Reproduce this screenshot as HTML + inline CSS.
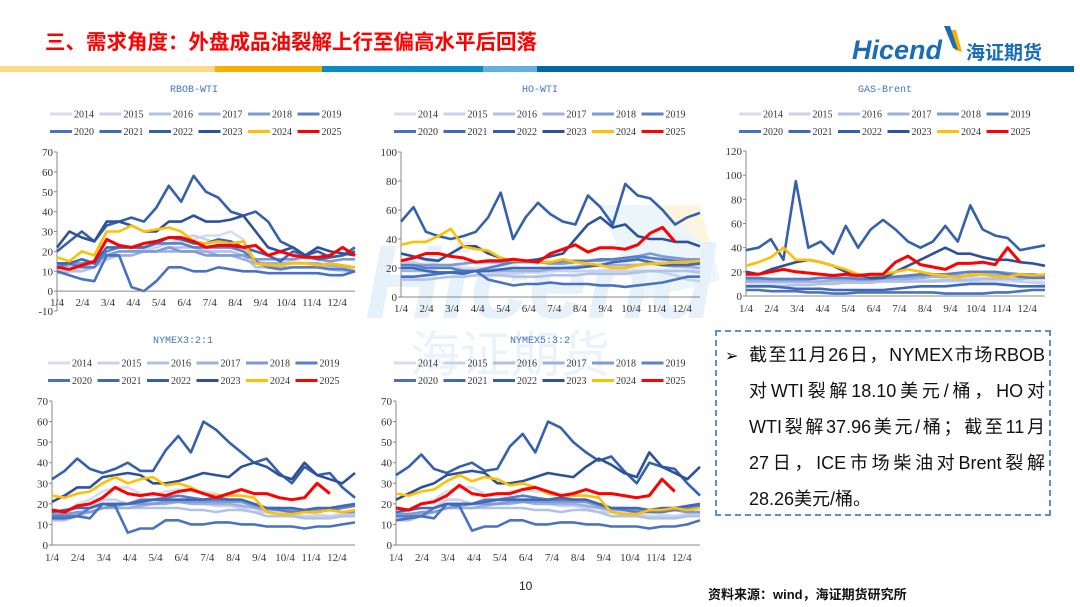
<!DOCTYPE html>
<html><head><meta charset="utf-8">
<style>
html,body{margin:0;padding:0;background:#fff;}
body{width:1080px;height:607px;position:relative;overflow:hidden;font-family:"Liberation Sans","Noto Sans CJK SC",sans-serif;}
#page{position:absolute;left:0;top:0;}
.box{position:absolute;left:715px;top:330px;width:336px;height:186px;border:2px dashed #5b8fd0;box-sizing:border-box;}
.ln{position:absolute;left:32px;width:296px;font-size:18px;color:#111;line-height:20px;text-align:justify;text-align-last:justify;white-space:nowrap;}
</style></head>
<body>
<svg id="page" width="1080" height="607" xmlns="http://www.w3.org/2000/svg">
  <text x="45" y="49" font-size="20.5" font-weight="bold" fill="#ff0000" font-family="Liberation Sans,Noto Sans CJK SC,sans-serif">三、需求角度：外盘成品油裂解上行至偏高水平后回落</text>
  <g>
    <polygon points="947,30 956,30 962,52 955,50" fill="#f5b000"/>
    <polygon points="944,26 950,26 958,50 953,48" fill="#1a6db5"/>
    <text x="852" y="59" font-size="27" font-weight="bold" font-style="italic" fill="#1a6db5" font-family="Liberation Sans,sans-serif">Hicend</text>
    <text x="966" y="59" font-size="19" font-weight="bold" fill="#1a6db5" font-family="Noto Sans CJK SC,sans-serif">海证期货</text>
  </g>
  <g>
    <rect x="0" y="66" width="215" height="6" fill="#fbd98a"/>
    <rect x="215" y="66" width="107" height="6" fill="#f5b000"/>
    <rect x="322" y="66" width="161" height="6" fill="#0a8bc8"/>
    <rect x="483" y="66" width="54" height="6" fill="#62b0e0"/>
    <rect x="537" y="66" width="537" height="6" fill="#0068a8"/>
  </g>
  <g opacity="0.38">
    <polygon points="600,205 700,205 720,280 640,300" fill="#cfe5f4"/>
    <polygon points="655,205 700,205 712,250" fill="#fde6b0"/>
    <text x="365" y="318" font-size="105" font-weight="bold" font-style="italic" fill="#bfdcf0" font-family="Liberation Sans,sans-serif">Hicend</text>
    <text x="410" y="372" font-size="50" fill="#c9e1f3" font-family="Noto Sans CJK SC,sans-serif">海证期货</text>
  </g>
  <g id="charts"></g>
  <text x="519" y="590" font-size="12" fill="#222" font-family="Liberation Sans,sans-serif">10</text>
  <text x="708" y="599" font-size="13" font-weight="bold" fill="#111" font-family="Liberation Sans,Noto Sans CJK SC,sans-serif">资料来源：wind，海证期货研究所</text>
</svg>

<div class="box">
  <div style="position:absolute;left:8px;top:14px;font-size:16px;">➢</div>
  <div class="ln" style="top:13px;">截至11月26日，NYMEX市场RBOB</div>
  <div class="ln" style="top:49px;">对WTI裂解18.10美元/桶，HO对</div>
  <div class="ln" style="top:85px;">WTI裂解37.96美元/桶；截至11月</div>
  <div class="ln" style="top:121px;">27日，ICE市场柴油对Brent裂解</div>
  <div class="ln" style="top:157px;text-align-last:left;">28.26美元/桶。</div>
</div>

<script>
const years = ['2014','2015','2016','2017','2018','2019','2020','2021','2022','2023','2024','2025'];
const monthLabels = ['1/4','2/4','3/4','4/4','5/4','6/4','7/4','8/4','9/4','10/4','11/4','12/4'];
const seriesColors = ['#d7ddef','#c8d2ec','#b2c2e6','#9cb1de','#7f9bd3','#5b7fc7','#4a72c0','#3f68b7','#3560ac','#2d5299','#ffc000','#ff0000'];

const rbobTicks = [-10,0,10,20,30,40,50,60,70];
const rbobValues = [
 [13,14,14,15,18,20,20,20,22,24,25,26,28,28,30,26,15,14,14,15,14,14,12,12,12],
 [10,10,12,14,18,20,20,21,22,24,26,28,26,24,22,22,14,12,12,12,12,12,11,10,10],
 [9,10,10,12,16,18,18,20,20,22,22,22,20,20,20,18,12,12,12,12,12,12,12,11,10],
 [12,13,13,14,18,18,18,20,20,20,20,20,20,18,18,16,14,14,14,14,14,14,13,12,12],
 [13,14,14,15,18,20,20,20,20,22,20,20,18,18,18,18,16,16,16,16,17,16,15,16,16],
 [12,14,12,12,20,22,22,22,24,24,24,22,22,22,22,20,15,12,11,12,12,12,11,11,10],
 [10,8,6,5,18,18,2,0,5,12,12,10,10,12,11,10,10,9,9,9,9,9,8,8,10],
 [14,14,16,14,22,22,22,22,24,27,26,24,24,26,25,22,20,18,15,20,18,16,17,18,22],
 [20,25,30,25,33,35,37,35,42,53,45,58,50,47,40,38,40,35,25,22,18,20,17,18,20],
 [22,30,27,25,35,35,33,30,30,35,35,38,35,35,36,38,30,22,20,22,18,22,20,19,18],
 [17,15,20,18,30,30,33,30,31,32,30,25,24,25,24,25,14,13,13,14,14,13,14,13,12],
 [12,11,13,15,26,23,22,24,25,27,27,25,22,23,23,22,23,18,20,18,17,17,18,22,18]
];
const hoTicks = [0,20,40,60,80,100];
const hoValues = [
 [30,28,25,22,22,20,20,20,18,18,18,18,18,18,18,18,18,19,20,22,24,24,22,20,18],
 [24,24,22,20,20,18,18,17,16,16,17,17,18,18,18,18,18,18,18,18,18,17,15,12,11],
 [12,12,12,13,14,14,15,15,15,14,14,14,15,15,15,16,16,16,16,17,18,18,18,18,17],
 [18,18,18,17,17,17,18,18,18,18,18,18,19,20,21,22,22,22,22,22,23,22,21,21,20],
 [22,22,22,22,22,23,24,24,24,24,24,24,23,23,24,25,25,26,27,28,30,28,27,26,26],
 [22,22,20,20,20,18,18,20,22,24,25,24,24,25,25,25,26,26,27,28,27,26,25,24,24],
 [14,14,15,16,17,18,18,12,10,8,9,9,10,9,9,9,8,8,7,8,9,10,12,14,14],
 [20,20,18,17,17,16,18,18,19,20,20,20,20,20,20,21,22,24,25,26,24,22,22,22,23],
 [52,62,45,42,40,42,45,55,72,40,55,65,57,52,50,70,62,50,78,70,68,60,50,55,58],
 [30,28,26,25,30,35,35,30,27,25,25,26,28,30,40,50,55,48,50,42,40,40,38,38,35],
 [36,38,38,42,47,35,33,32,27,25,25,24,24,26,24,23,22,20,20,22,23,23,24,24,25],
 [25,27,30,30,28,27,24,25,25,26,25,24,30,33,36,31,34,34,33,36,44,48,38]
];
const gasTicks = [0,20,40,60,80,100,120];
const gasValues = [
 [10,10,10,10,10,11,11,12,12,12,12,12,12,12,12,12,12,12,12,12,12,12,12,12,12],
 [12,12,12,12,12,12,12,12,12,12,12,12,12,12,13,13,14,14,15,15,14,14,12,11,10],
 [8,8,8,8,9,9,10,10,11,11,11,12,12,12,12,12,13,13,13,14,14,14,14,15,15],
 [12,12,12,12,12,12,12,13,13,13,13,14,14,14,15,16,16,17,17,18,18,17,16,16,16],
 [14,14,14,14,14,14,15,15,15,16,16,16,16,16,17,18,18,19,20,20,20,19,18,18,17],
 [15,15,14,14,14,14,15,15,15,14,14,15,16,17,18,18,18,19,20,20,20,18,16,15,15],
 [5,5,4,4,4,3,3,2,2,3,3,3,3,3,3,3,2,2,2,2,3,3,4,5,5],
 [8,8,8,7,6,6,6,5,5,5,5,5,6,7,8,8,8,9,10,10,10,9,8,8,8],
 [38,40,47,30,95,40,45,35,58,40,55,63,55,45,40,45,58,45,75,55,50,48,38,40,42],
 [20,18,22,25,28,30,28,25,20,18,15,15,20,25,30,35,40,35,35,32,30,30,28,27,25],
 [25,28,32,40,30,30,28,25,22,18,17,18,20,22,20,18,17,15,18,18,16,16,18,17,18],
 [18,18,20,22,20,19,18,17,18,17,18,18,28,33,26,24,22,27,27,28,26,40,28]
];
const n321Ticks = [0,10,20,30,40,50,60,70];
const n321Values = [
 [14,16,20,22,26,28,28,25,24,26,27,26,26,25,22,20,18,16,16,16,16,15,14,14,14],
 [13,13,15,18,22,22,20,20,21,22,22,22,20,19,19,18,16,16,15,15,14,14,14,15,15],
 [12,12,14,16,18,18,18,18,18,18,18,17,17,16,17,17,16,14,14,14,13,13,13,14,14],
 [14,14,15,16,18,18,18,19,20,20,21,20,20,20,20,19,18,17,17,17,17,17,17,16,16],
 [15,15,16,16,18,19,20,20,20,21,21,21,21,21,21,21,19,18,18,17,17,17,17,16,16],
 [14,14,14,18,20,20,20,22,22,23,24,23,22,22,22,22,20,18,17,16,16,16,17,18,19],
 [13,13,14,13,20,19,6,8,8,12,12,10,10,11,11,10,10,9,9,9,8,9,9,10,11],
 [16,17,18,18,20,20,20,21,22,22,22,22,22,23,22,22,20,18,18,18,17,18,18,19,20],
 [32,36,42,37,35,37,40,36,36,46,53,45,60,56,50,45,40,42,35,30,38,34,35,28,23],
 [21,24,28,28,33,34,35,34,30,30,31,33,35,34,33,38,40,38,34,32,40,34,32,30,35],
 [24,23,25,26,30,33,30,32,33,29,30,28,25,24,24,24,23,16,15,15,16,16,17,16,17],
 [17,16,19,20,23,28,25,24,25,24,26,27,25,23,25,27,25,25,23,22,23,30,25]
];
const n532Ticks = [0,10,20,30,40,50,60,70];
const n532Values = [
 [14,16,20,22,26,28,28,25,24,26,27,26,26,25,22,20,18,16,16,16,16,15,14,14,14],
 [13,13,15,18,22,22,20,20,21,22,22,22,20,19,19,18,16,16,15,15,14,14,14,15,15],
 [12,12,14,16,18,18,18,18,18,18,18,17,17,16,17,17,16,14,14,14,13,13,13,14,14],
 [14,14,15,16,18,18,18,19,20,20,21,20,20,20,20,19,18,17,17,17,17,17,17,16,16],
 [15,15,16,16,18,19,20,20,20,21,21,21,21,21,21,21,19,18,18,17,17,17,17,16,16],
 [14,14,14,18,20,20,20,22,22,23,24,23,22,22,22,22,20,18,17,16,16,16,17,18,19],
 [12,13,14,13,20,19,7,9,9,12,12,10,10,11,11,10,10,9,9,9,8,9,9,10,12],
 [16,17,18,18,20,20,20,21,22,22,22,22,22,23,22,22,20,18,18,18,17,18,18,19,20],
 [34,38,44,37,35,38,40,36,37,48,54,45,60,57,50,45,41,43,36,30,40,38,37,30,24],
 [22,25,28,30,34,35,36,35,30,30,31,33,35,34,33,38,42,39,35,33,45,38,35,32,38],
 [25,24,26,27,31,34,31,33,32,29,30,28,25,24,24,24,23,16,15,15,17,17,18,17,18],
 [18,17,20,21,24,29,25,24,25,25,27,28,26,24,25,27,25,25,24,23,24,32,26]
];

const NS='http://www.w3.org/2000/svg';
const root=document.getElementById('charts');
function mk(tag,attrs,parent){const e=document.createElementNS(NS,tag);for(const k in attrs)e.setAttribute(k,attrs[k]);(parent||root).appendChild(e);return e;}

function drawChart(cfg,ticks,values){
  const g=mk('g',{});
  
  
  const ymin=ticks[0],ymax=ticks[ticks.length-1];
  const yS=v=>cfg.yTop+(ymax-v)/(ymax-ymin)*(cfg.yBot-cfg.yTop);
  const w=cfg.right-cfg.left;
  const xS=f=>cfg.left+f*w;
  const t=mk('text',{x:cfg.titleX,y:cfg.titleY,'font-size':10,fill:'#4472c4','text-anchor':'middle','font-family':'Liberation Mono,monospace'},g);
  t.textContent=cfg.title;
  
  
  years.forEach((yr,i)=>{
    const row=Math.floor(i/6),col=i%6;
    const lx=cfg.legX+col*49.5, ly=cfg.legY+row*17.5;
    const lg=mk('g',{},g);
    
    
    mk('line',{x1:lx,x2:lx+22,y1:ly,y2:ly,stroke:seriesColors[i],'stroke-width':3},lg);
    const tx=mk('text',{x:lx+24,y:ly+3.5,'font-size':10,fill:'#333','font-family':'Liberation Serif,serif'},lg);
    tx.textContent=yr;
  });
  ticks.forEach(v=>{
    const tt=mk('text',{x:cfg.left-4,y:yS(v)+4,'font-size':11,fill:'#333','text-anchor':'end','font-family':'Liberation Serif,serif'},g);
    tt.textContent=v;
    
    
    mk('line',{x1:cfg.left-3,x2:cfg.left,y1:yS(v),y2:yS(v),stroke:'#888','stroke-width':1},g);
  });
  const ya=mk('line',{x1:cfg.left,x2:cfg.left,y1:cfg.yTop,y2:cfg.yBot,stroke:'#888','stroke-width':1},g);
  
  
  const step=w/11.7;
  monthLabels.forEach((m,k)=>{
    const tx=mk('text',{x:cfg.left+k*step,y:cfg.xLabY,'font-size':11,fill:'#333','text-anchor':'middle','font-family':'Liberation Serif,serif'},g);
    tx.textContent=m;
    
    
  });
  values.forEach((arr,i)=>{
    const pts=arr.map((v,j)=>xS(j/24).toFixed(1)+','+yS(v).toFixed(1)).join(' ');
    const pl=mk('polyline',{points:pts,fill:'none',stroke:seriesColors[i],'stroke-width':i===11?3:2.6,'stroke-linejoin':'round'},g);
    
    
  });
  const xa=mk('line',{x1:cfg.left,x2:cfg.right,y1:yS(0),y2:yS(0),stroke:'#888','stroke-width':1},g);
  
  
}

drawChart({name:'rbob-wti-chart',title:'RBOB-WTI',titleX:194,titleY:92,legX:50,legY:114,left:57,right:355,yTop:152,yBot:311,xLabY:306},rbobTicks,rbobValues);
drawChart({name:'ho-wti-chart',title:'HO-WTI',titleX:540,titleY:92,legX:394,legY:114,left:401,right:700,yTop:152,yBot:297,xLabY:312},hoTicks,hoValues);
drawChart({name:'gas-brent-chart',title:'GAS-Brent',titleX:885,titleY:92,legX:739,legY:114,left:746,right:1045,yTop:151,yBot:296,xLabY:312},gasTicks,gasValues);
drawChart({name:'nymex-321-chart',title:'NYMEX3:2:1',titleX:183,titleY:343,legX:48,legY:363,left:52,right:355,yTop:401,yBot:545,xLabY:561},n321Ticks,n321Values);
drawChart({name:'nymex-532-chart',title:'NYMEX5:3:2',titleX:540,titleY:343,legX:394,legY:363,left:396,right:700,yTop:401,yBot:545,xLabY:561},n532Ticks,n532Values);
</script>
</body></html>
